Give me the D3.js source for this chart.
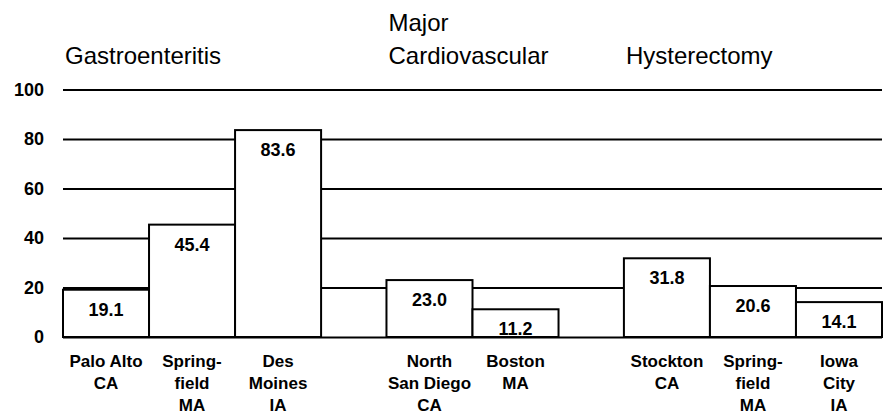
<!DOCTYPE html>
<html>
<head>
<meta charset="utf-8">
<script src="https://cdn.jsdelivr.net/npm/d3@7"></script>
<style>
  html, body { margin: 0; padding: 0; background: #fff; }
  svg { display: block; font-family: "Liberation Sans", Arial, Helvetica, sans-serif; }
</style>
</head>
<body>
<script>
'use strict';

// chart data
const groups = ["Gastroenteritis", "Major\nCardiovascular", "Hysterectomy"];
const groupOf = [0, 0, 0, 1, 1, 2, 2, 2];
const cities = [
  "Palo Alto\nCA", "Spring-\nfield\nMA", "Des\nMoines\nIA",
  "North\nSan Diego\nCA", "Boston\nMA",
  "Stockton\nCA", "Spring-\nfield\nMA", "Iowa\nCity\nIA"
];
const rates = [19.1, 45.4, 83.6, 23.0, 11.2, 31.8, 20.6, 14.1];
const yTicks = [0, 20, 40, 60, 80, 100];

const width = 887, height = 419;
const gap = 0.76; // space between groups, in bar widths
const slot = i => i + groupOf[i] * gap;

const x = d3.scaleLinear()
  .domain([0, rates.length + (groups.length - 1) * gap])
  .range([63, 882]);
const y = d3.scaleLinear().domain([0, 100]).range([337, 89.5]);
const bw = x(1) - x(0);

const svg = d3.select('body').append('svg')
  .attr('width', width)
  .attr('height', height)
  .attr('viewBox', [0, 0, width, height]);

// gridlines + tick labels
const axis = svg.append('g')
  .attr('transform', `translate(${x.range()[0]},0)`)
  .call(d3.axisLeft(y).tickValues(yTicks).tickSize(-(x.range()[1] - x.range()[0])).tickPadding(19));
axis.select('.domain').remove();
axis.selectAll('.tick line').attr('stroke', '#000').attr('stroke-width', 2);
axis.selectAll('.tick text')
  .attr('fill', '#000')
  .attr('font-size', 18)
  .attr('font-weight', 'bold')
  .attr('font-family', '"Liberation Sans", Arial, sans-serif');

// bars
const bar = svg.append('g').selectAll('g')
  .data(rates)
  .join('g')
    .attr('transform', (d, i) => `translate(${x(slot(i))},0)`);

bar.append('rect')
  .attr('y', d => y(d))
  .attr('width', bw)
  .attr('height', d => y(0) - y(d))
  .attr('fill', '#fff')
  .attr('stroke', '#000')
  .attr('stroke-width', 2);

bar.append('text')
  .attr('x', bw / 2)
  .attr('y', d => y(d) + 26)
  .attr('text-anchor', 'middle')
  .attr('font-size', 18)
  .attr('font-weight', 'bold')
  .text(d => d.toFixed(1));

// city labels under the bars
bar.append('text')
  .attr('text-anchor', 'middle')
  .attr('font-size', 17)
  .attr('font-weight', 'bold')
  .selectAll('tspan')
  .data((d, i) => cities[i].split('\n'))
  .join('tspan')
    .attr('x', bw / 2)
    .attr('y', (d, j) => 367 + j * 22)
    .text(d => d);

// group titles, last line sits on the same baseline
const firstBar = groups.map((g, k) => groupOf.indexOf(k));
svg.append('g').selectAll('text')
  .data(groups)
  .join('text')
    .attr('font-size', 24)
    .selectAll('tspan')
    .data((d, k) => {
      const lines = d.split('\n');
      return lines.map((t, j) => ({ t, k, up: lines.length - 1 - j }));
    })
    .join('tspan')
      .attr('x', d => x(slot(firstBar[d.k])) + 2)
      .attr('y', d => 64 - d.up * 33)
      .text(d => d.t);
</script>
</body>
</html>
